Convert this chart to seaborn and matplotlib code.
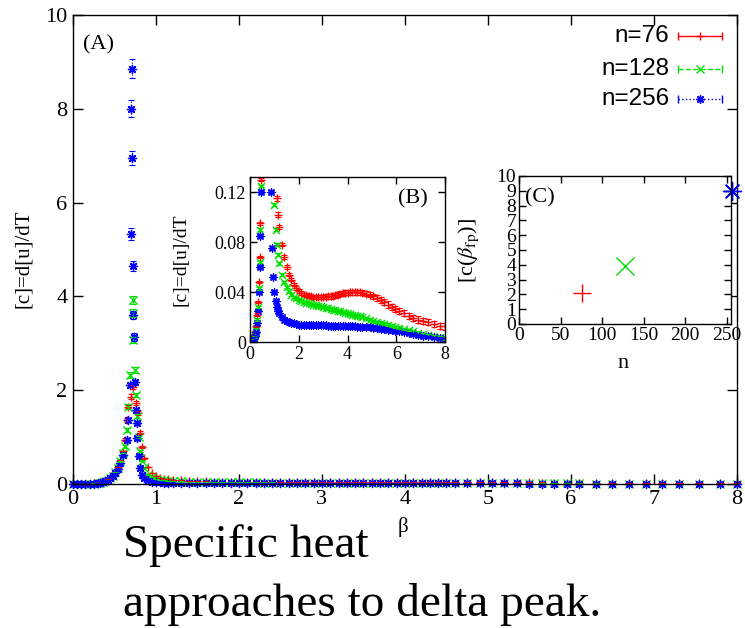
import numpy as np
import pandas as pd
import matplotlib
matplotlib.use('Agg')
import matplotlib.pyplot as plt
from matplotlib.markers import MarkerStyle
import seaborn as sns

# beta grid shared by the three sizes away from the peak
beta_low = [0.0, 0.05, 0.1, 0.15, 0.2, 0.25, 0.3, 0.33, 0.36, 0.39, 0.42, 0.45,
            0.48, 0.51, 0.54, 0.57, 0.6]
beta_tail = [0.85, 0.9, 0.95, 1.0, 1.05, 1.1, 1.15,
             1.2, 1.3, 1.4, 1.5, 1.6, 1.7, 1.8, 1.9, 2.0,
             2.1, 2.2, 2.3, 2.4, 2.5, 2.6, 2.7, 2.8, 2.9, 3.0,
             3.1, 3.2, 3.3, 3.4, 3.5, 3.6, 3.7, 3.8, 3.9, 4.0,
             4.1, 4.2, 4.3, 4.4, 4.5, 4.6,
             4.75, 4.9, 5.05, 5.2, 5.35, 5.5, 5.65, 5.8, 5.95, 6.1, 6.3, 6.5, 6.7,
             6.9, 7.1, 7.3, 7.55, 7.8, 8.0]

# n=76
c_low_76 = [0.002, 0.002, 0.003, 0.005, 0.008, 0.013, 0.022, 0.032, 0.048, 0.068, 0.095,
            0.13, 0.18, 0.26, 0.36, 0.5, 0.7]
beta_peak_76 = [0.627, 0.65, 0.66, 0.70, 0.72, 0.76, 0.78, 0.807, 0.83]
c_peak_76 = [0.94, 1.36, 1.65, 1.86, 2.07, 1.72, 1.51, 1.09, 0.79]
err_peak_76 = [0.03, 0.04, 0.04, 0.05, 0.05, 0.04, 0.04, 0.03, 0.03]
c_tail_76 = [0.55, 0.36, 0.24, 0.17, 0.135, 0.115, 0.102,
             0.092, 0.078, 0.068, 0.060, 0.054, 0.050, 0.046, 0.043, 0.041,
             0.0395, 0.038, 0.0375, 0.037, 0.0365, 0.036, 0.036, 0.036, 0.036, 0.036,
             0.0362, 0.0365, 0.0368, 0.037, 0.0375, 0.038, 0.0385, 0.039, 0.0393, 0.0396,
             0.0398, 0.040, 0.040, 0.040, 0.0398, 0.0395,
             0.0388, 0.038, 0.0365, 0.035, 0.0335, 0.032, 0.030, 0.028, 0.0265, 0.025,
             0.023, 0.021, 0.0195, 0.018, 0.017, 0.0158, 0.0143, 0.013, 0.0125]
err_tail_76 = ([0.01, 0.006, 0.004, 0.003, 0.002, 0.002, 0.002] + [0.0015] * 19
               + [0.002] * 16 + [0.0022] * 3 + [0.0025] * 16)

# n=128
c_low_128 = [0.0015, 0.0015, 0.0025, 0.004, 0.0065, 0.01, 0.018, 0.028, 0.043, 0.064, 0.09,
             0.125, 0.175, 0.25, 0.345, 0.48, 0.66]
beta_peak_128 = [0.63, 0.65, 0.66, 0.687, 0.72, 0.72, 0.72, 0.747, 0.76, 0.77, 0.79, 0.81, 0.83]
c_peak_128 = [0.8, 1.15, 1.65, 2.32, 3.92, 3.64, 3.07, 2.43, 1.9, 1.45, 1.0, 0.7, 0.5]
err_peak_128 = [0.03, 0.04, 0.05, 0.06, 0.09, 0.08, 0.07, 0.06, 0.05, 0.04, 0.03, 0.02, 0.02]
c_tail_128 = [0.35, 0.2, 0.14, 0.11, 0.09, 0.078, 0.07,
              0.063, 0.054, 0.048, 0.044, 0.041, 0.038, 0.036, 0.035, 0.034,
              0.033, 0.032, 0.0315, 0.031, 0.0305, 0.030, 0.0295, 0.029, 0.0285, 0.028,
              0.0275, 0.027, 0.0265, 0.026, 0.0255, 0.025, 0.0245, 0.024, 0.0235, 0.023,
              0.0225, 0.022, 0.0215, 0.021, 0.0205, 0.020,
              0.019, 0.018, 0.017, 0.0162, 0.0155, 0.0148, 0.014, 0.013, 0.0122, 0.0115,
              0.0105, 0.0095, 0.0085, 0.0075, 0.0066, 0.0057, 0.0047, 0.0038, 0.003]
err_tail_128 = 0.001

# n=256
c_low_256 = [0.001, 0.001, 0.002, 0.003, 0.005, 0.008, 0.015, 0.025, 0.04, 0.06, 0.085,
             0.12, 0.17, 0.24, 0.33, 0.45, 0.62]
beta_peak_256 = [0.65, 0.66, 0.687, 0.72, 0.70, 0.71, 0.70, 0.71, 0.72, 0.735, 0.747, 0.76,
                 0.77, 0.77, 0.79, 0.81, 0.83]
c_peak_256 = [0.94, 1.36, 2.11, 3.6, 5.33, 6.95, 8.0, 8.85, 4.65, 3.13, 2.17, 1.58, 1.3,
              0.98, 0.6, 0.35, 0.2]
err_peak_256 = [0.03, 0.04, 0.05, 0.08, 0.12, 0.15, 0.18, 0.2, 0.1, 0.08, 0.05, 0.04, 0.03,
                0.03, 0.02, 0.01, 0.01]
c_tail_256 = [0.12, 0.075, 0.052, 0.040, 0.033, 0.028, 0.025,
              0.023, 0.020, 0.018, 0.017, 0.016, 0.0155, 0.015, 0.0145, 0.014,
              0.0139, 0.0138, 0.0137, 0.0136, 0.0136, 0.0135, 0.0135, 0.0134, 0.0134, 0.0133,
              0.0133, 0.0132, 0.0132, 0.0131, 0.0131, 0.013, 0.013, 0.0129, 0.0129, 0.0128,
              0.0127, 0.0126, 0.0125, 0.0124, 0.0123, 0.0122,
              0.012, 0.0118, 0.0115, 0.0112, 0.0108, 0.0104, 0.01, 0.0095, 0.009, 0.0085,
              0.0078, 0.0071, 0.0064, 0.0058, 0.0051, 0.0045, 0.0038, 0.0032, 0.0027]
err_tail_256 = 0.0005
err_low = 0.001

# inset (C): peak height against n
n_sizes = [76, 128, 256]
c_peak_max = [2.1, 3.95, 9.0]

labels = ['n=76', 'n=128', 'n=256']
colors = ['#ff0000', '#00e000', '#0000ff']
markers = ['+', 'x', MarkerStyle((8, 2, 0))]
estyles = ['-', '--', ':']

SERIF = ['Liberation Serif', 'DejaVu Serif']
SANS = ['Liberation Sans', 'DejaVu Sans']


def build(c_low, beta_peak, c_peak, err_peak, c_tail, err_tail):
    beta = list(beta_low) + list(beta_peak) + list(beta_tail)
    c = list(c_low) + list(c_peak) + list(c_tail)
    if np.isscalar(err_tail):
        err_tail = [err_tail] * len(beta_tail)
    err = [err_low] * len(beta_low) + list(err_peak) + list(err_tail)
    return pd.DataFrame({'beta': beta, 'c': c, 'err': err})


series = [
    build(c_low_76, beta_peak_76, c_peak_76, err_peak_76, c_tail_76, err_tail_76),
    build(c_low_128, beta_peak_128, c_peak_128, err_peak_128, c_tail_128, err_tail_128),
    build(c_low_256, beta_peak_256, c_peak_256, err_peak_256, c_tail_256, err_tail_256),
]

sns.set_theme(style='ticks')
plt.rcParams['font.family'] = SERIF
plt.rcParams['mathtext.fontset'] = 'stix'
plt.rcParams['axes.linewidth'] = 1.0
plt.rcParams['text.color'] = 'black'
plt.rcParams['axes.labelcolor'] = 'black'
plt.rcParams['axes.edgecolor'] = 'black'
plt.rcParams['xtick.color'] = 'black'
plt.rcParams['ytick.color'] = 'black'

fig = plt.figure(figsize=(7.45, 6.28), dpi=100)
ax = fig.add_axes([0.098, 0.2293, 0.891, 0.747])


def draw(a, df, col, mk, ls, size, lw, cap, clip):
    eb = a.errorbar(df['beta'], df['c'], yerr=df['err'], fmt='none', ecolor=col,
                    elinewidth=0.8, capsize=cap, capthick=0.8, clip_on=clip)
    for ln in eb[2]:
        ln.set_linestyle(ls)
    sc = sns.scatterplot(data=df, x='beta', y='c', ax=a, marker=mk, color=col, s=size,
                         linewidth=lw, legend=False)
    sc.collections[-1].set_clip_on(clip)


for df, col, mk, ls in zip(series, colors, markers, estyles):
    draw(ax, df, col, mk, ls, 34, 1.0, 2.5, False)

ax.set_xlim(0, 8)
ax.set_ylim(0, 10)
ax.set_xticks(range(0, 9))
ax.set_yticks(range(0, 11, 2))
ax.tick_params(direction='in', top=True, right=True, length=7, width=1,
               labelsize=16, labelfontfamily=SERIF, pad=4)
ax.set_xlabel('β', fontsize=15)
ax.xaxis.set_label_coords(0.497, -0.07)
ax.set_ylabel('[c]=d[u]/dT', fontsize=15)
ax.yaxis.set_label_coords(-0.06, 0.48)
ax.text(0.015, 0.936, '(A)', transform=ax.transAxes, fontsize=16, va='center')

# legend drawn gnuplot style
leg_y = [0.955, 0.885, 0.821]
for lab, col, mk, ls, y in zip(labels, colors, markers, estyles, leg_y):
    ax.text(0.898, y, lab, transform=ax.transAxes, ha='right', va='center',
            fontsize=17.5, family=SANS)
    ax.plot([0.911, 0.977], [y, y], ls=ls, color=col, lw=1.0, transform=ax.transAxes)
    ax.plot([0.911, 0.977], [y, y], ls='none', marker='|', ms=6, mew=1.0, color=col,
            transform=ax.transAxes)
    ax.plot([0.944], [y], ls='none', marker=mk, ms=6, mew=1.0, color=col,
            transform=ax.transAxes)

# inset (B)
axb = fig.add_axes([0.3356, 0.4554, 0.262, 0.2627])
axb.set_facecolor('white')
for df, col, mk, ls in zip(series, colors, markers, estyles):
    draw(axb, df, col, mk, ls, 26, 1.0, 2.0, True)
axb.set_xlim(0, 8)
axb.set_ylim(0, 0.132)
axb.set_xticks([0, 2, 4, 6, 8])
axb.set_yticks([0, 0.04, 0.08, 0.12])
axb.set_yticklabels(['0', '0.04', '0.08', '0.12'])
axb.tick_params(direction='in', top=True, right=True, length=5, width=1,
                labelsize=13, labelfontfamily=SERIF, pad=3)
axb.set_xlabel('')
axb.set_ylabel('[c]=d[u]/dT', fontsize=14)
axb.yaxis.set_label_coords(-0.31, 0.5)
axb.text(0.913, 0.84, '(B)', transform=axb.transAxes, ha='right', fontsize=16)

# inset (C)
axc = fig.add_axes([0.6966, 0.4841, 0.2846, 0.2357])
axc.set_facecolor('white')
for x, y, col, mk in zip(n_sizes, c_peak_max, colors, markers):
    pt = sns.scatterplot(x=[x], y=[y], ax=axc, marker=mk, color=col, s=170,
                         linewidth=1.0, legend=False)
    pt.collections[-1].set_clip_on(False)
axc.set_xlim(0, 255)
axc.set_ylim(0, 10)
axc.set_xticks([0, 50, 100, 150, 200, 250])
axc.set_yticks(range(0, 11))
axc.tick_params(direction='in', top=True, right=True, length=5, width=1,
                labelsize=14, labelfontfamily=SERIF, pad=2)
axc.set_xlabel('n', fontsize=16)
axc.xaxis.set_label_coords(0.49, -0.2)
axc.set_ylabel(r'[c($\beta_{\mathrm{fp}}$)]', fontsize=16)
axc.yaxis.set_label_coords(-0.18, 0.5)
axc.text(0.03, 0.82, '(C)', transform=axc.transAxes, fontsize=16)

fig.text(0.165, 0.113, 'Specific heat', fontsize=34, va='baseline', ha='left')
fig.text(0.165, 0.019, 'approaches to delta peak.', fontsize=34, va='baseline', ha='left')

fig.savefig('out.png', dpi=100)
